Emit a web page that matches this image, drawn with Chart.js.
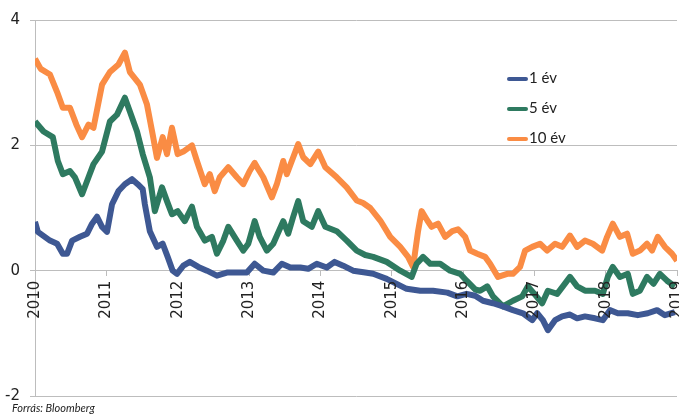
<!DOCTYPE html>
<html lang="hu">
<head>
    <meta charset="UTF-8">
    <title>Hozamok</title>
    <script src="https://cdn.jsdelivr.net/npm/chart.js"></script>
    <style>
        body {
            margin: 0;
            background: #fff;
        }

        .wrap {
            position: relative;
            width: 679px;
            height: 415px;
        }

        .legend {
            position: absolute;
            left: 507px;
            top: 66px;
            font-family: 'Lato', sans-serif;
            font-size: 15px;
            color: #222;
        }

        .legend div {
            height: 30px;
            line-height: 22px;
        }

        .legend span {
            display: inline-block;
            width: 21px;
            height: 4px;
            border-radius: 2px;
            vertical-align: middle;
            margin-right: 1px;
        }

        .source {
            position: absolute;
            left: 12px;
            top: 401px;
            font-family: 'Lato', sans-serif;
            font-style: italic;
            font-size: 11px;
            color: #222;
        }
    </style>
</head>
<body>
    <div class="wrap">
        <canvas id="yieldChart"></canvas>
        <div class="legend" id="legend"></div>
        <div class="source">Forrás: Bloomberg</div>
    </div>

    <script>
        // values (year as decimal, yield in %)
        const seriesNames = ["1 év", "5 év", "10 év"];
        const seriesColors = ["#3e5893", "#2e7a60", "#fa8c44"];
        const yearTicks = [2010, 2011, 2012, 2013, 2014, 2015, 2016, 2017, 2018, 2019];

        const oneYearT = [2010.00, 2010.04, 2010.21, 2010.31, 2010.39, 2010.45, 2010.52, 2010.63, 2010.73, 2010.80,
            2010.87, 2010.94, 2011.01, 2011.08, 2011.17, 2011.26, 2011.36, 2011.44, 2011.51, 2011.54,
            2011.61, 2011.71, 2011.79, 2011.86, 2011.93, 2011.99, 2012.08, 2012.17, 2012.29, 2012.41,
            2012.55, 2012.69, 2012.83, 2012.97, 2013.08, 2013.20, 2013.34, 2013.46, 2013.58, 2013.72,
            2013.83, 2013.95, 2014.09, 2014.20, 2014.32, 2014.46, 2014.63, 2014.74, 2014.93, 2015.07,
            2015.21, 2015.40, 2015.58, 2015.78, 2015.92, 2016.05, 2016.17, 2016.28, 2016.42, 2016.56,
            2016.70, 2016.84, 2016.97, 2017.04, 2017.12, 2017.19, 2017.29, 2017.39, 2017.50, 2017.60,
            2017.71, 2017.85, 2017.96, 2018.06, 2018.17, 2018.31, 2018.45, 2018.59, 2018.72, 2018.83, 2018.97];
        const oneYearV = [0.78, 0.62, 0.48, 0.43, 0.27, 0.27, 0.48, 0.54, 0.59, 0.75,
            0.86, 0.70, 0.62, 1.06, 1.27, 1.38, 1.46, 1.38, 1.30, 1.06,
            0.63, 0.38, 0.43, 0.22, 0.00, -0.05, 0.08, 0.14, 0.06, 0.00,
            -0.08, -0.03, -0.03, -0.03, 0.11, 0.00, -0.03, 0.11, 0.05, 0.05,
            0.03, 0.11, 0.05, 0.14, 0.08, 0.00, -0.03, -0.05, -0.13, -0.21,
            -0.29, -0.32, -0.32, -0.35, -0.41, -0.37, -0.40, -0.48, -0.52, -0.57,
            -0.63, -0.68, -0.79, -0.68, -0.79, -0.95, -0.79, -0.73, -0.70, -0.76,
            -0.73, -0.76, -0.79, -0.63, -0.68, -0.68, -0.71, -0.68, -0.63, -0.71, -0.66];

        const fiveYearT = [2010.00, 2010.12, 2010.25, 2010.32, 2010.39, 2010.49, 2010.56, 2010.66, 2010.75, 2010.82,
            2010.94, 2011.05, 2011.15, 2011.26, 2011.33, 2011.43, 2011.51, 2011.61, 2011.68, 2011.78,
            2011.85, 2011.92, 2012.00, 2012.10, 2012.20, 2012.27, 2012.38, 2012.48, 2012.55, 2012.64,
            2012.71, 2012.83, 2012.92, 2012.99, 2013.08, 2013.15, 2013.25, 2013.34, 2013.48, 2013.55,
            2013.62, 2013.69, 2013.76, 2013.88, 2013.97, 2014.07, 2014.23, 2014.37, 2014.51, 2014.63,
            2014.74, 2014.93, 2015.12, 2015.28, 2015.35, 2015.44, 2015.54, 2015.68, 2015.82, 2015.96,
            2016.05, 2016.17, 2016.24, 2016.34, 2016.42, 2016.56, 2016.70, 2016.83, 2016.91, 2017.00,
            2017.11, 2017.19, 2017.32, 2017.40, 2017.50, 2017.60, 2017.71, 2017.85, 2017.96, 2018.03,
            2018.10, 2018.20, 2018.31, 2018.38, 2018.48, 2018.58, 2018.67, 2018.76, 2018.86, 2018.97];
        const fiveYearV = [2.38, 2.22, 2.13, 1.75, 1.54, 1.59, 1.49, 1.22, 1.49, 1.70,
            1.90, 2.38, 2.49, 2.76, 2.54, 2.22, 1.86, 1.49, 0.95, 1.33,
            1.11, 0.90, 0.95, 0.79, 1.02, 0.70, 0.48, 0.54, 0.27, 0.48,
            0.70, 0.48, 0.32, 0.43, 0.79, 0.54, 0.32, 0.43, 0.79, 0.59,
            0.86, 1.11, 0.79, 0.70, 0.95, 0.70, 0.63, 0.48, 0.32, 0.25,
            0.22, 0.14, 0.00, -0.10, 0.11, 0.22, 0.11, 0.11, 0.00, -0.05,
            -0.16, -0.30, -0.32, -0.25, -0.41, -0.57, -0.48, -0.41, -0.25, -0.37,
            -0.52, -0.32, -0.37, -0.25, -0.10, -0.25, -0.32, -0.32, -0.37, -0.10,
            0.06, -0.10, -0.05, -0.37, -0.32, -0.10, -0.21, -0.05, -0.16, -0.25];

        const tenYearT = [2010.00, 2010.08, 2010.21, 2010.31, 2010.39, 2010.49, 2010.58, 2010.66, 2010.75, 2010.82,
            2010.94, 2011.05, 2011.17, 2011.26, 2011.33, 2011.47, 2011.57, 2011.65, 2011.71, 2011.79,
            2011.85, 2011.92, 2012.00, 2012.08, 2012.20, 2012.27, 2012.38, 2012.45, 2012.52, 2012.59,
            2012.71, 2012.83, 2012.92, 2013.01, 2013.08, 2013.13, 2013.20, 2013.32, 2013.39, 2013.48,
            2013.53, 2013.62, 2013.69, 2013.76, 2013.86, 2013.97, 2014.07, 2014.23, 2014.37, 2014.51,
            2014.60, 2014.70, 2014.84, 2014.98, 2015.12, 2015.23, 2015.30, 2015.37, 2015.42, 2015.50,
            2015.56, 2015.65, 2015.75, 2015.85, 2015.93, 2016.03, 2016.10, 2016.20, 2016.31, 2016.38,
            2016.49, 2016.62, 2016.70, 2016.80, 2016.87, 2016.97, 2017.08, 2017.18, 2017.29, 2017.39,
            2017.50, 2017.60, 2017.71, 2017.82, 2017.95, 2018.02, 2018.10, 2018.20, 2018.30, 2018.38,
            2018.48, 2018.58, 2018.65, 2018.73, 2018.83, 2018.93, 2019.00];
        const tenYearV = [3.38, 3.22, 3.13, 2.85, 2.60, 2.60, 2.33, 2.13, 2.33, 2.28,
            2.97, 3.17, 3.29, 3.48, 3.17, 2.97, 2.65, 2.17, 1.80, 2.13,
            1.86, 2.28, 1.86, 1.90, 2.00, 1.75, 1.38, 1.54, 1.27, 1.49,
            1.65, 1.49, 1.38, 1.59, 1.72, 1.62, 1.49, 1.17, 1.38, 1.75,
            1.54, 1.81, 2.02, 1.81, 1.70, 1.90, 1.65, 1.49, 1.33, 1.12,
            1.08, 1.00, 0.80, 0.54, 0.38, 0.22, 0.06, 0.63, 0.95, 0.80,
            0.70, 0.75, 0.54, 0.63, 0.66, 0.54, 0.32, 0.27, 0.22, 0.11,
            -0.10, -0.05, -0.05, 0.06, 0.32, 0.38, 0.43, 0.32, 0.43, 0.38,
            0.56, 0.38, 0.48, 0.43, 0.32, 0.54, 0.75, 0.54, 0.59, 0.27,
            0.32, 0.43, 0.32, 0.54, 0.38, 0.27, 0.16];

        function toPoints(t, v) {
            return t.map((x, i) => ({ x: x, y: v[i] }));
        }

        const seriesPoints = [
            toPoints(oneYearT, oneYearV),
            toPoints(fiveYearT, fiveYearV),
            toPoints(tenYearT, tenYearV)
        ];

        // html legend
        let legend = document.getElementById("legend");
        seriesNames.forEach((name, i) => {
            let row = document.createElement("div");
            row.innerHTML = '<span style="background:' + seriesColors[i] + '"></span>' + name;
            legend.appendChild(row);
        });

        const gridColor = "#bdbdbd";
        const tickFont = { family: "'DejaVu Sans', sans-serif", size: 15 };

        let ctx = document.getElementById("yieldChart").getContext("2d");
        let chart = new Chart(ctx, {
            type: "line",
            data: {
                datasets: seriesNames.map((name, i) => ({
                    label: name,
                    data: seriesPoints[i],
                    borderColor: seriesColors[i],
                    backgroundColor: seriesColors[i],
                    borderWidth: 6,
                    pointRadius: 0,
                    borderJoinStyle: "round",
                    tension: 0
                }))
            },
            options: {
                responsive: true,
                maintainAspectRatio: false,
                animation: false,
                layout: { padding: { top: 20, bottom: 16, left: 0, right: 2 } },
                plugins: {
                    legend: { display: false },
                    tooltip: { enabled: false }
                },
                scales: {
                    x: {
                        type: "linear",
                        position: { y: 0 },
                        min: yearTicks[0],
                        max: yearTicks[yearTicks.length - 1],
                        afterBuildTicks: (scale) => {
                            scale.ticks = yearTicks.map(v => ({ value: v }));
                        },
                        afterFit: (scale) => {
                            scale.height = 0;
                            scale.paddingLeft = 0;
                            scale.paddingRight = 0;
                        },
                        grid: {
                            drawOnChartArea: false,
                            color: gridColor,
                            tickLength: 5
                        },
                        border: { color: gridColor },
                        ticks: {
                            z: 1,
                            minRotation: 90,
                            maxRotation: 90,
                            padding: 5,
                            autoSkip: false,
                            color: "#222",
                            font: tickFont,
                            callback: (v) => String(v)
                        }
                    },
                    y: {
                        min: -2,
                        max: 4,
                        afterFit: (scale) => {
                            scale.width = 35;
                        },
                        grid: {
                            color: gridColor,
                            tickLength: 5
                        },
                        border: { color: gridColor },
                        ticks: {
                            stepSize: 2,
                            padding: 10,
                            color: "#222",
                            font: tickFont
                        }
                    }
                }
            }
        });
    </script>
</body>
</html>
